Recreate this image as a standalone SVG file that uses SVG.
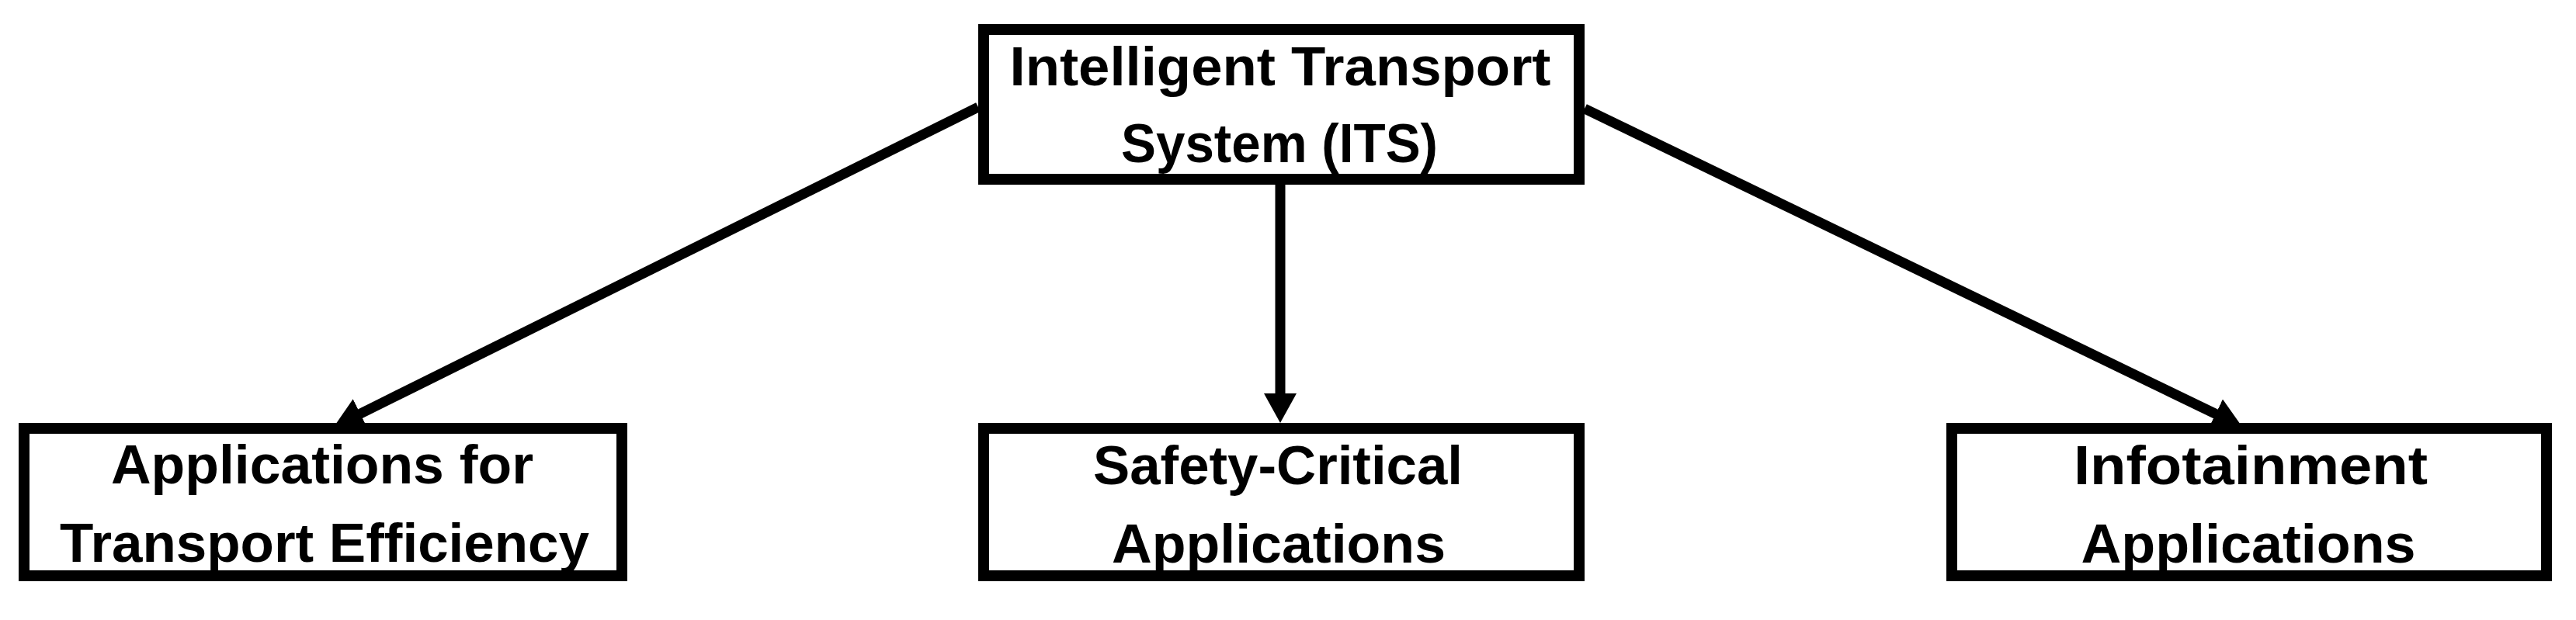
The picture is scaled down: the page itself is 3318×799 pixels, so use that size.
<svg xmlns="http://www.w3.org/2000/svg" width="3318" height="799" viewBox="0 0 3318 799">
<style>
.box{fill:#fff;stroke:#000;stroke-width:14}
.lbl{font-family:"Liberation Sans",Arial,sans-serif;font-weight:bold;font-size:70px;fill:#000;text-anchor:middle}
.conn{stroke:#000;stroke-width:13;fill:none}
</style>
<defs>
<marker id="arr" markerUnits="userSpaceOnUse" markerWidth="38" markerHeight="42" viewBox="0 0 38 42" refX="8" refY="21" orient="auto">
<path d="M0,0 L38,21 L0,42 Z" fill="#000"/>
</marker>
</defs>
<rect width="3318" height="799" fill="#fff"/>
<g id="connectors">
<line class="conn" x1="1260" y1="138" x2="456.9" y2="536.7" marker-end="url(#arr)"/>
<line class="conn" x1="1649" y1="238" x2="1649" y2="515" marker-end="url(#arr)"/>
<line class="conn" x1="2041" y1="140" x2="2861" y2="536.9" marker-end="url(#arr)"/>
</g>
<g id="its">
<rect class="box" x="1267" y="38" width="767" height="193"/>
<text class="lbl" x="1649" y="110" textLength="697" lengthAdjust="spacingAndGlyphs">Intelligent Transport</text>
<text class="lbl" x="1648" y="209" textLength="408" lengthAdjust="spacingAndGlyphs">System (ITS)</text>
</g>
<g id="efficiency">
<rect class="box" x="31" y="552" width="770" height="190"/>
<text class="lbl" x="415" y="623" textLength="544" lengthAdjust="spacingAndGlyphs">Applications for</text>
<text class="lbl" x="418" y="724" textLength="682" lengthAdjust="spacingAndGlyphs">Transport Efficiency</text>
</g>
<g id="safety">
<rect class="box" x="1267" y="552" width="767" height="190"/>
<text class="lbl" x="1646" y="624" textLength="476" lengthAdjust="spacingAndGlyphs">Safety-Critical</text>
<text class="lbl" x="1647" y="725" textLength="430" lengthAdjust="spacingAndGlyphs">Applications</text>
</g>
<g id="infotainment">
<rect class="box" x="2514" y="552" width="766" height="190"/>
<text class="lbl" x="2899" y="624" textLength="456" lengthAdjust="spacingAndGlyphs">Infotainment</text>
<text class="lbl" x="2896" y="725" textLength="431" lengthAdjust="spacingAndGlyphs">Applications</text>
</g>
</svg>
